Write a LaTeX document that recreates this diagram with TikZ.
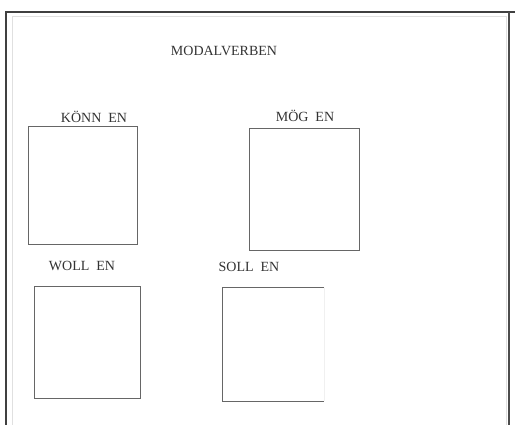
\documentclass[tikz,border=0pt]{standalone}
\usepackage{fontspec}
\setmainfont{Liberation Serif}
\usepackage{tikz}
\usetikzlibrary{positioning, calc}

\begin{document}
\begin{tikzpicture}[x=1pt, y=-1pt, font=\fontsize{14}{16}\selectfont,
    lbl/.style={text=black!80, inner sep=0pt},
    feld/.style={draw=black!60, line width=0.9pt, inner sep=0pt}]
    \useasboundingbox (0,0) rectangle (515,425);
    \fill[white] (0,0) rectangle (515,425);
    % Rahmen
    \draw[black!12, line width=1pt] (12,425) -- (12,17) -- (506,17) -- (506,425);
    \draw[black!75, line width=1.4pt] (515,12) -- (6,12) -- (6,425);
    \draw[black!70, line width=2pt] (509,12) -- (509,425);
    \node[lbl] (titel) at (224,51) {MODALVERBEN};
    \node[lbl] (koennen) at (94,117) {KÖNN\enspace EN};
    \node[lbl] (moegen) at (305,116) {MÖG\enspace EN};
    \node[lbl] (wollen) at (82,266) {WOLL\enspace EN};
    \node[lbl] (sollen) at (249,267) {SOLL\enspace EN};
    \node[feld, minimum width=109pt, minimum height=118pt] (boxk) at (82.5,185) {};
    \node[feld, minimum width=110pt, minimum height=122pt] (boxm) at (304,189) {};
    \node[feld, minimum width=106pt, minimum height=112pt] (boxw) at (87,342) {};
    \node[inner sep=0pt, minimum width=101pt, minimum height=113pt] (boxs) at (273.5,344.5) {};
    \draw[black!60, line width=0.9pt] (boxs.north east) -- (boxs.north west)
        -- (boxs.south west) -- (boxs.south east);
    \draw[black!6, line width=0.8pt] (boxs.north east) -- (boxs.south east);
\end{tikzpicture}
\end{document}
